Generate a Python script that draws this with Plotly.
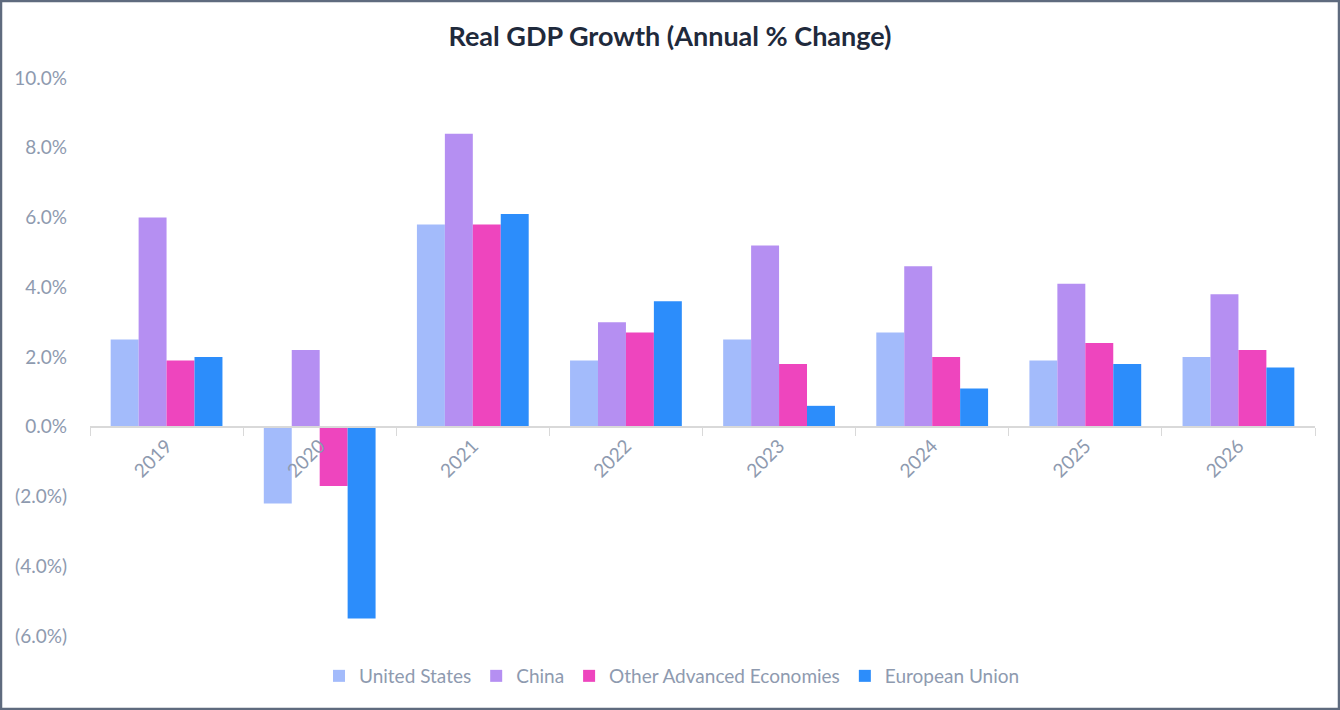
import plotly.graph_objects as go

years = ["2019", "2020", "2021", "2022", "2023", "2024", "2025", "2026"]
united_states = [2.5, -2.2, 5.8, 1.9, 2.5, 2.7, 1.9, 2.0]
china = [6.0, 2.2, 8.4, 3.0, 5.2, 4.6, 4.1, 3.8]
other_advanced = [1.9, -1.7, 5.8, 2.7, 1.8, 2.0, 2.4, 2.2]
european_union = [2.0, -5.5, 6.1, 3.6, 0.6, 1.1, 1.8, 1.7]

series_names = ["United States", "China", "Other Advanced Economies", "European Union"]
series_values = [united_states, china, other_advanced, european_union]
colors = ["#A3BBFB", "#B58FF2", "#EE45BE", "#2C8DFB"]

y_tick_vals = [-6, -4, -2, 0, 2, 4, 6, 8, 10]
y_tick_text = ["(6.0%)", "(4.0%)", "(2.0%)", "0.0%", "2.0%", "4.0%", "6.0%", "8.0%", "10.0%"]

W, H = 1340, 710
ml, mr, mt, mb = 90, 25, 78, 74

fig = go.Figure()
for name, vals, c in zip(series_names, series_values, colors):
    fig.add_trace(go.Bar(x=years, y=vals, name=name, marker=dict(color=c, line=dict(width=0))))

ymin, ymax = -6, 10
pw = W - ml - mr
ph = H - mt - mb

fig.update_layout(
    width=W, height=H,
    margin=dict(l=ml, r=mr, t=mt, b=mb),
    paper_bgcolor="white", plot_bgcolor="white",
    barmode="group", bargap=0.27, bargroupgap=0,
    font=dict(family="Lato, Carlito, sans-serif", color="#8E9AAF", size=19),
    title=dict(text="<b>Real GDP Growth (Annual % Change)</b>", x=0.5, xref="container",
               xanchor="center", y=1 - 37 / H, yanchor="middle",
               font=dict(family="Lato, sans-serif", size=27, color="#1F2A3C")),
    xaxis=dict(
        anchor="free", position=(0 - ymin) / (ymax - ymin),
        showline=True, linecolor="#D9D9D9", linewidth=1.5,
        ticks="outside", tickson="boundaries", ticklen=8, tickcolor="#D9D9D9",
        tickangle=-45, tickfont=dict(size=19, color="#8E9AAF"),
        showgrid=False, zeroline=False,
    ),
    yaxis=dict(
        range=[ymin, ymax], tickvals=y_tick_vals, ticktext=y_tick_text,
        showgrid=False, zeroline=False, showline=False, ticks="",
        ticklabelstandoff=22,
        tickfont=dict(size=19, color="#8E9AAF"),
    ),
    legend=dict(orientation="h", x=(672 - ml) / pw, xanchor="center",
                y=-(676 - (H - mb)) / ph, yanchor="middle",
                font=dict(size=19, color="#8E9AAF"), itemwidth=30, traceorder="normal"),
    shapes=[dict(type="rect", xref="paper", yref="paper",
                 x0=-(ml - 1) / pw, x1=1 + (mr - 1) / pw,
                 y0=-(mb - 1) / ph, y1=1 + (mt - 1) / ph,
                 line=dict(color="#5F6B7E", width=2.5), fillcolor="rgba(0,0,0,0)", layer="above")],
)

fig.write_html("out.html", config={"displayModeBar": False},
               post_script="document.body.style.margin='0';document.body.style.overflow='hidden';")
